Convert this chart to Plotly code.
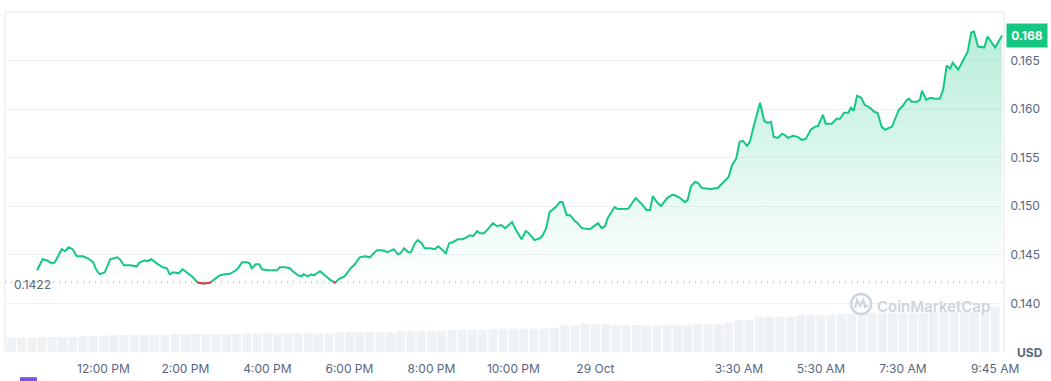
import pandas as pd
import plotly.graph_objects as go

# ---------------- data ----------------
time_hm = [
    "10:23", "10:31", "10:37", "10:45", "10:49", "10:59", "11:04", "11:09", "11:15", "11:21",
    "11:30", "11:37", "11:45", "11:50", "11:55", "12:02", "12:10", "12:20", "12:24", "12:30",
    "12:39", "12:49", "12:53", "13:01", "13:04", "13:10", "13:18", "13:27", "13:33", "13:37",
    "13:42", "13:50", "13:56", "14:02", "14:11", "14:18", "14:26", "14:36", "14:43", "14:50",
    "14:58", "15:05", "15:12", "15:17", "15:23", "15:30", "15:34", "15:37", "15:43", "15:48",
    "15:52", "16:01", "16:14", "16:18", "16:26", "16:33", "16:37", "16:45", "16:50", "16:53",
    "16:59", "17:04", "17:08", "17:17", "17:24", "17:31", "17:39", "17:46", "17:53", "18:02",
    "18:08", "18:15", "18:23", "18:30", "18:40", "18:48", "18:56", "19:05", "19:11", "19:15",
    "19:20", "19:26", "19:30", "19:36", "19:40", "19:46", "19:50", "19:58", "20:05", "20:10",
    "20:15", "20:21", "20:26", "20:31", "20:39", "20:45", "20:49", "20:56", "21:01", "21:07",
    "21:11", "21:17", "21:24", "21:30", "21:36", "21:42", "21:48", "21:55", "21:58", "22:04",
    "22:12", "22:18", "22:21", "22:31", "22:39", "22:43", "22:48", "22:53", "23:02", "23:08",
    "23:12", "23:18", "23:23", "23:30", "23:34", "23:40", "23:52", "23:56", "00:04", "00:09",
    "00:14", "00:18", "00:28", "00:33", "00:48", "00:59", "01:08", "01:15", "01:20", "01:24",
    "01:30", "01:36", "01:45", "01:52", "01:56", "02:04", "02:11", "02:15", "02:20", "02:26",
    "02:30", "02:36", "02:48", "02:59", "03:07", "03:15", "03:20", "03:26", "03:31", "03:36",
    "03:42", "03:46", "03:53", "04:01", "04:07", "04:12", "04:17", "04:21", "04:27", "04:33",
    "04:37", "04:42", "04:49", "04:56", "05:02", "05:08", "05:15", "05:21", "05:26", "05:33",
    "05:37", "05:46", "05:53", "05:58", "06:04", "06:10", "06:14", "06:18", "06:23", "06:29",
    "06:34", "06:42", "06:48", "06:53", "06:59", "07:04", "07:10", "07:14", "07:24", "07:30",
    "07:36", "07:39", "07:43", "07:51", "07:55", "07:58", "08:04", "08:11", "08:17", "08:24",
    "08:29", "08:34", "08:39", "08:43", "08:51", "08:59", "09:05", "09:10", "09:14", "09:20",
    "09:29", "09:34", "09:45", "09:55",
]
price_usd = [
    0.14341, 0.14455, 0.14444, 0.14413, 0.14424, 0.14558, 0.14537, 0.14578, 0.14558, 0.14486,
    0.14486, 0.14465, 0.14424, 0.14341, 0.14300, 0.14320, 0.14455, 0.14475, 0.14455, 0.14393,
    0.14393, 0.14382, 0.14424, 0.14444, 0.14434, 0.14455, 0.14413, 0.14372, 0.14362, 0.14300,
    0.14320, 0.14310, 0.14351, 0.14320, 0.14269, 0.14215, 0.14205, 0.14212, 0.14248, 0.14289,
    0.14300, 0.14305, 0.14331, 0.14362, 0.14424, 0.14424, 0.14413, 0.14362, 0.14403, 0.14403,
    0.14351, 0.14341, 0.14341, 0.14372, 0.14372, 0.14362, 0.14331, 0.14289, 0.14279, 0.14300,
    0.14279, 0.14300, 0.14289, 0.14331, 0.14289, 0.14248, 0.14212, 0.14258, 0.14279, 0.14362,
    0.14403, 0.14475, 0.14486, 0.14475, 0.14548, 0.14548, 0.14527, 0.14558, 0.14506, 0.14517,
    0.14568, 0.14527, 0.14527, 0.14620, 0.14651, 0.14620, 0.14568, 0.14568, 0.14558, 0.14589,
    0.14558, 0.14517, 0.14620, 0.14630, 0.14661, 0.14661, 0.14671, 0.14702, 0.14692, 0.14744,
    0.14723, 0.14723, 0.14775, 0.14826, 0.14795, 0.14806, 0.14775, 0.14826, 0.14837, 0.14754,
    0.14661, 0.14744, 0.14733, 0.14651, 0.14671, 0.14702, 0.14775, 0.14940, 0.14992, 0.15043,
    0.15043, 0.14909, 0.14909, 0.14847, 0.14826, 0.14775, 0.14764, 0.14785, 0.14826, 0.14775,
    0.14795, 0.14878, 0.14992, 0.14971, 0.14975, 0.15085, 0.15023, 0.14961, 0.14961, 0.15105,
    0.15043, 0.15002, 0.15085, 0.15116, 0.15116, 0.15085, 0.15043, 0.15064, 0.15209, 0.15250,
    0.15240, 0.15188, 0.15178, 0.15188, 0.15240, 0.15302, 0.15426, 0.15488, 0.15663, 0.15673,
    0.15622, 0.15663, 0.15859, 0.16066, 0.15880, 0.15859, 0.15870, 0.15715, 0.15704, 0.15746,
    0.15735, 0.15704, 0.15725, 0.15715, 0.15684, 0.15694, 0.15787, 0.15818, 0.15828, 0.15942,
    0.15849, 0.15849, 0.15901, 0.15901, 0.15963, 0.15963, 0.16014, 0.15983, 0.16138, 0.16118,
    0.16045, 0.16014, 0.15973, 0.15963, 0.15818, 0.15787, 0.15808, 0.15818, 0.15994, 0.16035,
    0.16097, 0.16107, 0.16076, 0.16076, 0.16097, 0.16190, 0.16097, 0.16118, 0.16107, 0.16107,
    0.16200, 0.16448, 0.16417, 0.16479, 0.16407, 0.16510, 0.16593, 0.16789, 0.16799, 0.16644,
    0.16634, 0.16748, 0.16634, 0.16758,
]
baseline_price = 0.1422
last_price_label = "0.168"

volume_start = "2024-10-28 09:45"
volume_musd = (
    [43, 43, 43] + [45, 45, 45, 45] + [48, 48, 48] + [51] * 6 + [54] * 7 + [56] * 9
    + [59] * 6 + [63] * 5 + [66] * 4 + [70] * 6 + [73, 80, 80] + [84, 84, 84] + [81] * 8
    + [84, 84, 84] + [88] + [96, 96] + [106] * 4 + [111] * 4 + [114] * 3 + [118] * 6
    + [121] * 6 + [136]
)

tick_times = ["2024-10-28 12:00", "2024-10-28 14:00", "2024-10-28 16:00", "2024-10-28 18:00",
              "2024-10-28 20:00", "2024-10-28 22:00", "2024-10-29 00:00", "2024-10-29 03:30",
              "2024-10-29 05:30", "2024-10-29 07:30", "2024-10-29 09:45"]
tick_text = ["12:00 PM", "2:00 PM", "4:00 PM", "6:00 PM", "8:00 PM", "10:00 PM", "29 Oct",
             "3:30 AM", "5:30 AM", "7:30 AM", "9:45 AM"]
price_ticks = [0.140, 0.145, 0.150, 0.155, 0.160, 0.165]
price_tick_text = ["0.140", "0.145", "0.150", "0.155", "0.160", "0.165"]

# ---------------- build ----------------
times = []
day = 28
prev = None
for hm in time_hm:
    if prev is not None and hm < prev:
        day += 1
    times.append(pd.Timestamp(f"2024-10-{day} {hm}"))
    prev = hm

vol_times = pd.date_range(volume_start, periods=len(volume_musd), freq="15min")

GREEN = "#16c784"
RED = "#ea3943"
GREY_TXT = "#58667e"

# red segments (below baseline)
red_x, red_y = [], []
for i in range(len(price_usd) - 1):
    p0, p1 = price_usd[i], price_usd[i + 1]
    if p0 >= baseline_price and p1 >= baseline_price:
        continue
    t0, t1 = times[i].value, times[i + 1].value

    def cross():
        f = (baseline_price - p0) / (p1 - p0)
        return pd.Timestamp(int(t0 + f * (t1 - t0)))

    if p0 < baseline_price and p1 < baseline_price:
        seg = [(times[i], p0), (times[i + 1], p1)]
    elif p0 < baseline_price:
        seg = [(times[i], p0), (cross(), baseline_price)]
    else:
        seg = [(cross(), baseline_price), (times[i + 1], p1)]
    red_x += [s[0] for s in seg] + [None]
    red_y += [s[1] for s in seg] + [None]

fig = go.Figure()

fig.add_trace(go.Bar(
    x=vol_times, y=volume_musd, yaxis="y2",
    marker=dict(color="#eff2f5", line=dict(width=0)),
    hoverinfo="skip", showlegend=False,
))

fig.add_trace(go.Scatter(
    x=[times[0], times[-1]], y=[baseline_price, baseline_price],
    mode="lines", line=dict(width=0, color="rgba(0,0,0,0)"),
    hoverinfo="skip", showlegend=False,
))

fig.add_trace(go.Scatter(
    x=times, y=price_usd, mode="lines",
    line=dict(color=GREEN, width=2),
    fill="tonexty",
    fillgradient=dict(
        type="vertical",
        colorscale=[[0, "rgba(22,199,132,0.0)"], [1, "rgba(22,199,132,0.30)"]],
        start=baseline_price, stop=0.168,
    ),
    showlegend=False,
))

fig.add_trace(go.Scatter(
    x=red_x, y=red_y, mode="lines",
    line=dict(color=RED, width=2),
    showlegend=False, hoverinfo="skip",
))

border = "#e6e8ec"
wm = "#cdd4df"
shapes = [
    dict(type="line", xref="paper", yref="paper", x0=0, x1=1, y0=1, y1=1,
         line=dict(color=border, width=1)),
    dict(type="line", xref="paper", yref="paper", x0=0, x1=0, y0=0, y1=1,
         line=dict(color=border, width=1)),
    dict(type="line", xref="paper", yref="paper", x0=1, x1=1, y0=0, y1=1,
         line=dict(color=border, width=1)),
    dict(type="line", xref="paper", yref="y", x0=0, x1=1, y0=baseline_price, y1=baseline_price,
         line=dict(color="#8d96a6", width=1, dash="1px,5px")),
    # watermark logo
    dict(type="circle", xref="paper", yref="paper", xsizemode="pixel", ysizemode="pixel",
         xanchor=0.857, yanchor=0.141, x0=-10, x1=10, y0=-10, y1=10,
         line=dict(color=wm, width=2.5)),
    dict(type="path", xref="paper", yref="paper", xsizemode="pixel", ysizemode="pixel",
         xanchor=0.857, yanchor=0.141,
         path="M -6,-4 L -4,4 L -1,-2 L 2,4 L 4,-3 L 7,-1",
         line=dict(color=wm, width=2.2)),
    # partial element at bottom-left
    dict(type="rect", xref="paper", yref="paper", x0=0.015, x1=0.032, y0=-0.09, y1=-0.074,
         line=dict(width=0), fillcolor="#7b52e8"),
]

annotations = [
    dict(text="CoinMarketCap", xref="paper", yref="paper", x=0.929, y=0.135,
         xanchor="center", yanchor="middle",
         showarrow=False, font=dict(family="Inter", size=15, color=wm, weight=600)),
    dict(text="0.1422", xref="paper", yref="y", x=0.007, y=baseline_price, yshift=-2,
         xanchor="left", yanchor="middle", showarrow=False,
         font=dict(family="Inter", size=12, color=GREY_TXT)),
    dict(text="<b>" + last_price_label + "</b>", xref="paper", yref="y", x=1, xshift=2,
         y=price_usd[-1], xanchor="left", yanchor="middle", showarrow=False,
         bgcolor=GREEN, borderpad=4, width=32,
         font=dict(family="Inter", size=12, color="white")),
    dict(text="<b>USD</b>", xref="paper", yref="paper", x=1.026, y=0, yshift=0,
         xanchor="center", yanchor="middle", showarrow=False,
         font=dict(family="Inter", size=12, color=GREY_TXT)),
]

fig.update_layout(
    width=1051, height=381,
    margin=dict(l=5, r=47, t=12, b=29),
    paper_bgcolor="white", plot_bgcolor="white",
    font=dict(family="Inter", size=12, color=GREY_TXT),
    bargap=0.12,
    showlegend=False,
    xaxis=dict(
        type="date",
        range=["2024-10-28 09:36", "2024-10-29 09:58"],
        tickvals=tick_times, ticktext=tick_text,
        showgrid=False, zeroline=False, showline=False,
        ticks="outside", ticklen=6, tickcolor="rgba(0,0,0,0)",
        tickfont=dict(family="Inter", size=12, color=GREY_TXT),
    ),
    yaxis=dict(
        side="right", range=[0.135, 0.170],
        tickvals=price_ticks, ticktext=price_tick_text,
        showgrid=True, gridcolor="#eff1f4", gridwidth=1,
        zeroline=False, showline=False,
        ticks="outside", ticklen=3, tickcolor="rgba(0,0,0,0)",
        tickfont=dict(family="Inter", size=12, color=GREY_TXT),
    ),
    yaxis2=dict(
        overlaying="y", range=[0, 1020], visible=False, showgrid=False,
    ),
    shapes=shapes,
    annotations=annotations,
)

fig.write_html("out.html", config={"displayModeBar": False},
               post_script="document.body.style.margin='0';")
